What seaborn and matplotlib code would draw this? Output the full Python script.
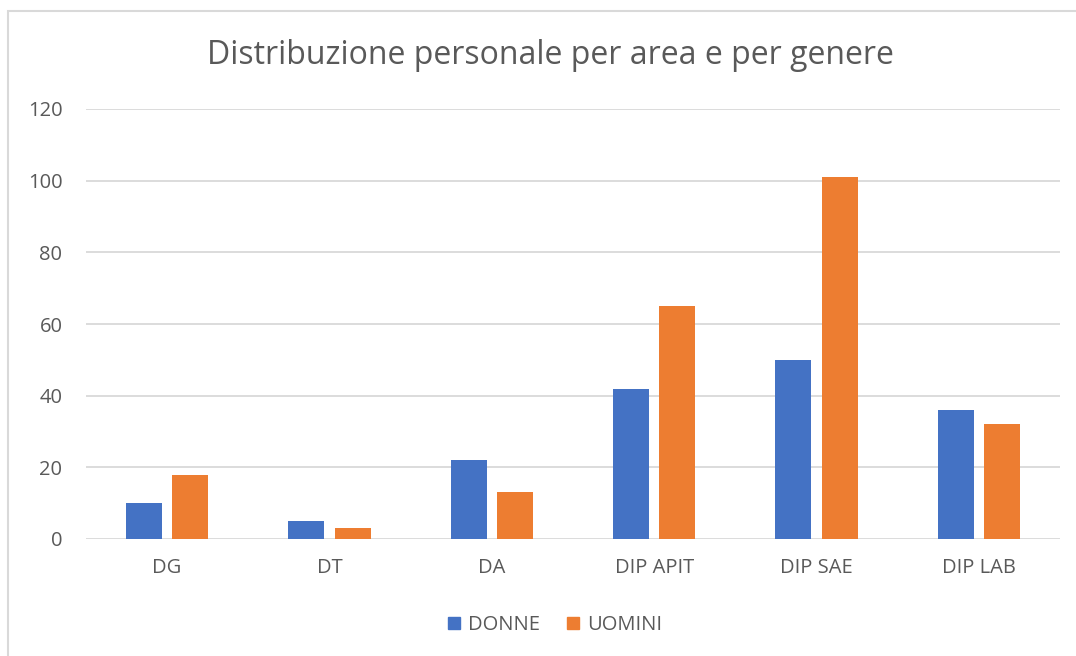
import matplotlib
matplotlib.use("Agg")
import matplotlib.pyplot as plt
import matplotlib.patches as mpatches
import pandas as pd
import seaborn as sns

categories = ["DG", "DT", "DA", "DIP APIT", "DIP SAE", "DIP LAB"]
donne = [10, 5, 22, 42, 50, 36]
uomini = [18, 3, 13, 65, 101, 32]
series_names = ["DONNE", "UOMINI"]
y_ticks = [0, 20, 40, 60, 80, 100, 120]

df = pd.DataFrame({
    "area": categories * 2,
    "genere": [series_names[0]] * len(categories) + [series_names[1]] * len(categories),
    "valore": donne + uomini,
})

sns.set_theme(style="white")
plt.rcParams["font.family"] = ["Open Sans", "DejaVu Sans"]

W, H = 1076, 656
fig = plt.figure(figsize=(W / 100, H / 100), dpi=100)
ax = fig.add_axes([86 / W, 1 - 539 / H, (1060 - 86) / W, (539 - 109) / H])

palette = {"DONNE": "#4472C4", "UOMINI": "#ED7D31"}
sns.barplot(data=df, x="area", y="valore", hue="genere", palette=palette,
            width=0.57, gap=0.22, ax=ax, legend=False, saturation=1,
            linewidth=0)

ax.set_ylim(0, 120)
ax.set_yticks(y_ticks)
ax.set_xlim(-0.5, len(categories) - 0.5)
ax.yaxis.grid(True, color="#D9D9D9", linewidth=1.3)
ax.set_axisbelow(True)
for s in ax.spines.values():
    s.set_visible(False)
ax.set_xlabel("")
ax.set_ylabel("")
ax.tick_params(axis="both", length=0, labelsize=14.5, labelcolor="#595959")
ax.tick_params(axis="y", pad=17)
ax.tick_params(axis="x", pad=14)

fig.text(550 / W, 1 - 56 / H, "Distribuzione personale per area e per genere",
         ha="center", va="center", fontsize=23, color="#595959")

handles = [mpatches.Patch(color=palette[n], label=n) for n in series_names]
fig.legend(handles=handles, loc="center", bbox_to_anchor=(555 / W, 1 - 625 / H),
           ncol=2, frameon=False, fontsize=14.5, labelcolor="#595959",
           handlelength=0.6, handleheight=0.6, handletextpad=0.4, columnspacing=1.3)

# chart border: only top and left edges fall inside the image
border = mpatches.Rectangle((8 / W, -10 / H), (W + 20) / W, (H - 11 + 10) / H,
                            transform=fig.transFigure, fill=False,
                            edgecolor="#D9D9D9", linewidth=1.5)
fig.patches.append(border)

fig.savefig("out.png", dpi=100, facecolor="white")
